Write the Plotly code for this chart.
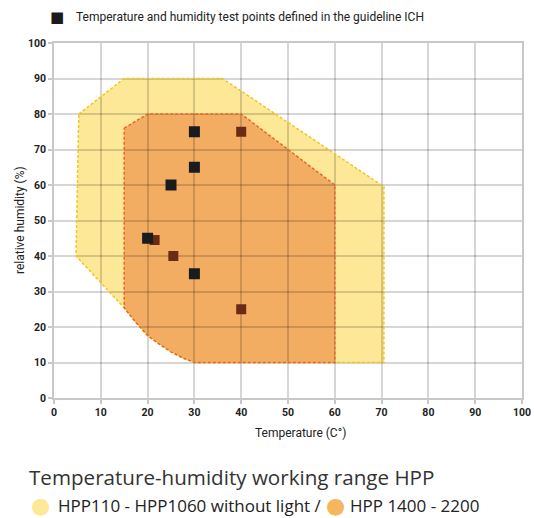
import plotly.graph_objects as go

# ---- data ----
ticks = [0, 10, 20, 30, 40, 50, 60, 70, 80, 90, 100]

yellow_temp = [5.3, 15, 36, 70.5, 70.5, 30, 27.5, 25, 22.5, 20, 17.5, 15, 4.7]
yellow_hum = [80, 90, 90, 59.5, 10, 10, 11.3, 13, 15.2, 17.6, 21.3, 25.4, 40]

orange_temp = [15, 20, 40, 60, 60, 30, 27.5, 25, 22.5, 20, 17.5, 15]
orange_hum = [76, 80, 80, 60, 10, 10, 11.3, 13, 15.2, 17.6, 21.3, 25.4]

black_temp = [30, 30, 25, 20, 30]
black_hum = [75, 65, 60, 45, 35]

brown_temp = [40, 21.5, 25.5, 40]
brown_hum = [75, 44.5, 40, 25]

YELLOW_FILL = "#FDE898"
ORANGE_FILL = "#F3AD62"
YELLOW_LINE = "#F5C51C"
ORANGE_LINE = "#E8652A"


def path_of(xs, ys):
    pts = [f"{x},{y}" for x, y in zip(xs, ys)]
    return "M " + " L ".join(pts) + " Z"


fig = go.Figure()

# dashed outlines (traces)
for xs, ys, col in [(yellow_temp, yellow_hum, YELLOW_LINE), (orange_temp, orange_hum, ORANGE_LINE)]:
    fig.add_trace(go.Scatter(
        x=xs + xs[:1], y=ys + ys[:1], mode="lines",
        line=dict(color=col, width=1.5, dash="3px,2px"),
        hoverinfo="skip", showlegend=False,
    ))

fig.add_trace(go.Scatter(
    x=brown_temp, y=brown_hum, mode="markers",
    marker=dict(symbol="square", size=10, color="#6B2A14", line=dict(width=0)),
    showlegend=False,
))
fig.add_trace(go.Scatter(
    x=black_temp, y=black_hum, mode="markers",
    marker=dict(symbol="square", size=11, color="#1B1B1D", line=dict(width=0)),
    showlegend=False,
))

# filled regions below the grid
fig.add_shape(type="path", path=path_of(yellow_temp, yellow_hum), xref="x", yref="y",
              fillcolor=YELLOW_FILL, line=dict(width=0), layer="below")
fig.add_shape(type="path", path=path_of(orange_temp, orange_hum), xref="x", yref="y",
              fillcolor=ORANGE_FILL, line=dict(width=0), layer="below")

narrow = "Roboto, sans-serif"
tick_font = dict(family=narrow, size=10.5, color="#222222", weight="bold")
axis_common = dict(
    range=[0, 100], tickvals=ticks, ticktext=[str(t) for t in ticks],
    showgrid=True, gridcolor="rgba(0,0,0,0.16)", gridwidth=1.5,
    zeroline=False, showline=True, linecolor="#c8c8c8", linewidth=1.5, mirror=True,
    ticks="outside", ticklen=4, tickcolor="#c8c8c8", tickwidth=1.5,
    tickfont=tick_font, fixedrange=True, automargin=False,
)
fig.update_xaxes(**axis_common)
fig.update_yaxes(**axis_common)

W0, W1, H0, H1 = 54, 522, 43, 398


def px(xp):
    return (xp - W0) / (W1 - W0)


def py(yp):
    return (H1 - yp) / (H1 - H0)


ann = [
    dict(text="■", x=px(57), y=py(17), font=dict(family="DejaVu Sans", size=15, color="#1B1B1D")),
    dict(text="Temperature and humidity test points defined in the guideline ICH", x=px(74), y=py(17),
         xanchor="left", font=dict(family=narrow, size=12, color="#222222")),
    dict(text="Temperature (C°)", x=px(300), y=py(433),
         font=dict(family=narrow, size=12, color="#222222")),
    dict(text="relative humidity (%)", x=px(20), y=py(220), textangle=-90,
         font=dict(family=narrow, size=12, color="#222222")),
    dict(text="Temperature-humidity working range HPP", x=px(27), y=py(477), xanchor="left",
         font=dict(family="Open Sans, sans-serif", size=20.6, color="#333333")),
    dict(text="●", x=px(40), y=py(505), font=dict(family="DejaVu Sans", size=22, color=YELLOW_FILL)),
    dict(text="HPP110 - HPP1060 without light /", x=px(56), y=py(505), xanchor="left",
         font=dict(family="Open Sans, sans-serif", size=17, color="#222222")),
    dict(text="●", x=px(335), y=py(505), font=dict(family="DejaVu Sans", size=22, color="#F5B75E")),
    dict(text="HPP 1400 - 2200", x=px(348), y=py(505), xanchor="left",
         font=dict(family="Open Sans, sans-serif", size=17, color="#222222")),
]
for a in ann:
    a.setdefault("xanchor", "center")
    a.update(xref="paper", yref="paper", yanchor="middle", showarrow=False)

fig.update_layout(
    width=534, height=518,
    margin=dict(l=W0, r=534 - W1, t=H0, b=518 - H1, autoexpand=False),
    paper_bgcolor="white", plot_bgcolor="white",
    showlegend=False, annotations=ann,
)

fig.write_html("out.html", config={"displayModeBar": False},
               post_script="document.body.style.margin='0px';document.body.style.overflow='hidden';")
